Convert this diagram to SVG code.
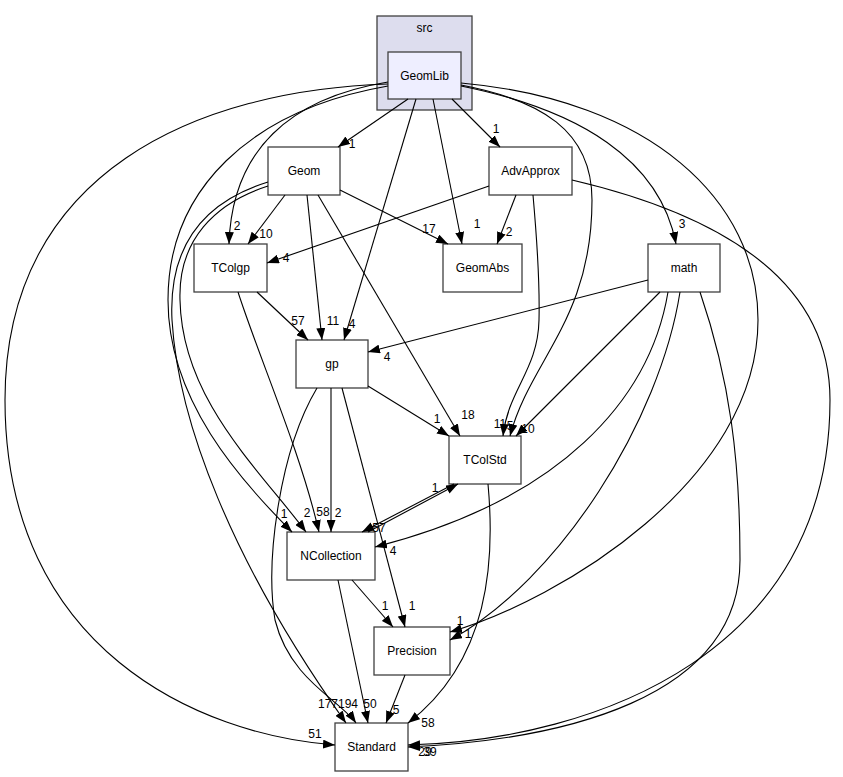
<svg xmlns="http://www.w3.org/2000/svg" width="843" height="777" viewBox="0 0 843 777">
<style>
.n rect{fill:#ffffff;stroke:#404040;stroke-width:1.3}
.t{font-family:"Liberation Sans",Arial,sans-serif;font-size:12px;fill:#000;text-anchor:middle}
.e path{fill:none;stroke:#000;stroke-width:1.1;marker-end:url(#a)}
.l{font-family:"Liberation Sans",Arial,sans-serif;font-size:12px;fill:#000;text-anchor:middle}
</style>
<defs>
<marker id="a" viewBox="0 0 12 9" refX="12" refY="4.5" markerWidth="12" markerHeight="9" markerUnits="userSpaceOnUse" orient="auto">
<path d="M0,0 L12,4.5 L0,9 z" fill="#000"/>
</marker>
</defs>
<rect width="843" height="777" fill="#ffffff"/>
<g id="cluster_src">
<rect x="377" y="16" width="95" height="94" fill="#ddddee" stroke="#404040" stroke-width="1.3"/>
<text class="t" x="424.5" y="32">src</text>
</g>
<g id="GeomLib" class="n"><rect x="388" y="52" width="73" height="47" style="fill:#eeeeff"/><text class="t" x="424.5" y="80">GeomLib</text></g>
<g id="Geom" class="n"><rect x="268" y="147" width="72" height="48"/><text class="t" x="304" y="175">Geom</text></g>
<g id="AdvApprox" class="n"><rect x="489" y="147" width="83" height="48"/><text class="t" x="530.5" y="175">AdvApprox</text></g>
<g id="TColgp" class="n"><rect x="194" y="244" width="73" height="48"/><text class="t" x="230.5" y="272">TColgp</text></g>
<g id="GeomAbs" class="n"><rect x="443" y="244" width="79" height="48"/><text class="t" x="482.5" y="272">GeomAbs</text></g>
<g id="math" class="n"><rect x="648" y="244" width="72" height="48"/><text class="t" x="684" y="272">math</text></g>
<g id="gp" class="n"><rect x="296" y="340" width="72" height="48"/><text class="t" x="332" y="368">gp</text></g>
<g id="TColStd" class="n"><rect x="449" y="436" width="72" height="48"/><text class="t" x="485" y="464">TColStd</text></g>
<g id="NCollection" class="n"><rect x="287" y="532" width="88" height="48"/><text class="t" x="331" y="560">NCollection</text></g>
<g id="Precision" class="n"><rect x="374" y="627" width="76" height="48"/><text class="t" x="412" y="655">Precision</text></g>
<g id="Standard" class="n"><rect x="335" y="723" width="73" height="48"/><text class="t" x="371.5" y="751">Standard</text></g>
<g id="edges" class="e">
<path d="M408,99 L338,147"/>
<path d="M452,99 L500,147"/>
<path d="M433,99 L462,244"/>
<path d="M416,99 L344,340"/>
<path d="M388,82 C290,98 232,150 229,244"/>
<path d="M388,86 C250,110 168,190 168,300 C168,400 240,480 292,532"/>
<path d="M388,84 C200,90 5,170 5,400 C5,650 200,735 335,745"/>
<path d="M268,182 C210,200 168,240 172,320 C178,420 230,560 346,723"/>
<path d="M268,186 C215,203 178,240 180,300 C182,400 260,470 306,532"/>
<path d="M285,195 L248,244"/>
<path d="M307,195 L322,340"/>
<path d="M340,190 L448,244"/>
<path d="M318,195 L460,436"/>
<path d="M489,186 L267,263"/>
<path d="M516,195 L497,244"/>
<path d="M533,195 C537,240 540,280 539,320 C538,370 508,390 503,436"/>
<path d="M572,180 C700,210 830,270 830,400 C830,650 600,740 408,745"/>
<path d="M461,85 C540,100 592,130 592,200 C592,320 530,360 510,436"/>
<path d="M461,86 C580,110 660,160 676,244"/>
<path d="M461,83 C650,100 758,200 758,320 C758,480 560,600 450,632"/>
<path d="M648,280 L368,352"/>
<path d="M660,292 L516,436"/>
<path d="M668,292 C650,400 560,500 375,547"/>
<path d="M680,292 C660,420 560,580 450,640"/>
<path d="M700,292 C730,380 740,460 740,560 C740,700 560,740 408,747"/>
<path d="M257,292 L308,340"/>
<path d="M238,292 C260,360 300,450 319,532"/>
<path d="M331,388 L331,532"/>
<path d="M368,386 L449,436"/>
<path d="M342,388 L405,627"/>
<path d="M317,388 C280,450 265,560 275,620 C290,680 340,700 356,723"/>
<path d="M454,484 L362,532"/>
<path d="M368,532 L458,484"/>
<path d="M488,484 C495,560 490,660 408,723"/>
<path d="M352,580 L393,627"/>
<path d="M338,580 L368,723"/>
<path d="M405,675 L386,723"/>
</g>
<g id="labels">
<text class="l" x="352" y="148">1</text>
<text class="l" x="496" y="133">1</text>
<text class="l" x="477" y="228">1</text>
<text class="l" x="352" y="328">4</text>
<text class="l" x="237" y="230">2</text>
<text class="l" x="284" y="518">1</text>
<text class="l" x="315" y="738">51</text>
<text class="l" x="328" y="708">177</text>
<text class="l" x="307" y="517">2</text>
<text class="l" x="266" y="238">10</text>
<text class="l" x="333" y="325">11</text>
<text class="l" x="429" y="233">17</text>
<text class="l" x="468" y="419">18</text>
<text class="l" x="286" y="262">4</text>
<text class="l" x="509" y="236">2</text>
<text class="l" x="500" y="428">11</text>
<text class="l" x="510" y="430">5</text>
<text class="l" x="682" y="228">3</text>
<text class="l" x="460" y="625">1</text>
<text class="l" x="387" y="361">4</text>
<text class="l" x="528" y="433">10</text>
<text class="l" x="393" y="555">4</text>
<text class="l" x="468" y="638">1</text>
<text class="l" x="298" y="325">57</text>
<text class="l" x="323" y="516">58</text>
<text class="l" x="338" y="517">2</text>
<text class="l" x="437" y="423">1</text>
<text class="l" x="412" y="610">1</text>
<text class="l" x="348" y="708">194</text>
<text class="l" x="379" y="532">57</text>
<text class="l" x="435" y="492">1</text>
<text class="l" x="428" y="727">58</text>
<text class="l" x="385" y="610">1</text>
<text class="l" x="370" y="708">50</text>
<text class="l" x="396" y="714">5</text>
<text class="l" x="425" y="756">29</text>
<text class="l" x="430" y="756">39</text>
</g>
</svg>
